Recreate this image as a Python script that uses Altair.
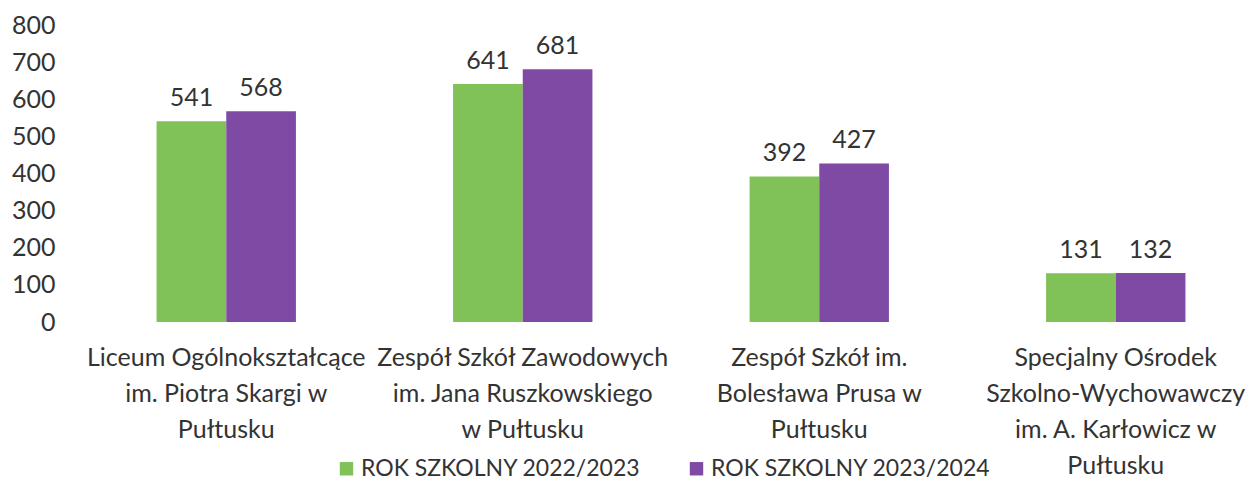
import altair as alt
import pandas as pd

schools = [
    "Liceum Ogólnokształcące\nim. Piotra Skargi w\nPułtusku",
    "Zespół Szkół Zawodowych\nim. Jana Ruszkowskiego\nw Pułtusku",
    "Zespół Szkół im.\nBolesława Prusa w\nPułtusku",
    "Specjalny Ośrodek\nSzkolno-Wychowawczy\nim. A. Karłowicz w\nPułtusku",
]
series = ["ROK SZKOLNY 2022/2023", "ROK SZKOLNY 2023/2024"]
values_2022 = [541, 641, 392, 131]
values_2023 = [568, 681, 427, 132]
y_ticks = [0, 100, 200, 300, 400, 500, 600, 700, 800]
colors = ["#80c257", "#7f4aa3"]

rows = []
for s, a, b in zip(schools, values_2022, values_2023):
    rows.append({"school": s, "series": series[0], "value": a})
    rows.append({"school": s, "series": series[1], "value": b})
df = pd.DataFrame(rows)

FONT = "Lato"

x = alt.X(
    "school:N",
    sort=None,
    title=None,
    scale=alt.Scale(range=[13, 1199], paddingInner=0.53, paddingOuter=0.265),
    axis=alt.Axis(
        labelAngle=0,
        labelExpr="split(datum.label, '\\n')",
        labelFont=FONT,
        labelFontSize=25,
        labelColor="#333333",
        labelLineHeight=36,
        labelBaseline="top",
        labelPadding=23,
        labelLimit=500,
        labelOverlap=False,
        domain=False,
        ticks=False,
        grid=False,
    ),
)

y = alt.Y(
    "value:Q",
    title=None,
    scale=alt.Scale(domain=[0, 800], nice=False),
    axis=alt.Axis(
        values=y_ticks,
        labelFont=FONT,
        labelFontSize=25,
        labelColor="#333333",
        labelPadding=10,
        labelOverlap=False,
        labelFlush=False,
        domain=False,
        ticks=False,
        grid=False,
    ),
)

xoff = alt.XOffset("series:N", sort=series, scale=alt.Scale(paddingInner=0, paddingOuter=0))

bars = alt.Chart(df).mark_bar().encode(
    x=x,
    xOffset=xoff,
    y=y,
    color=alt.Color(
        "series:N",
        sort=series,
        scale=alt.Scale(domain=series, range=colors),
        legend=alt.Legend(
            title=None,
            orient="none",
            direction="horizontal",
            legendX=270,
            legendY=432,
            symbolType="square",
            symbolSize=180,
            symbolStrokeWidth=0,
            symbolOpacity=1,
            labelFont=FONT,
            labelFontSize=23,
            labelColor="#333333",
            labelOffset=3,
            columnPadding=44,
            labelLimit=500,
        ),
    ),
)

labels = alt.Chart(df).mark_text(
    font=FONT, fontSize=25, color="#333333", baseline="alphabetic", dy=-15
).encode(
    x=x,
    xOffset=xoff,
    y=y,
    text=alt.Text("value:Q"),
)

chart = (
    alt.layer(bars, labels)
    .properties(
        width=1185,
        height=297,
        padding={"left": 57, "top": 17, "right": 0, "bottom": 159},
        autosize=alt.AutoSizeParams(type="none"),
    )
    .configure_view(stroke=None)
)

chart.save("out.html", embed_options={"renderer": "svg", "actions": False})
